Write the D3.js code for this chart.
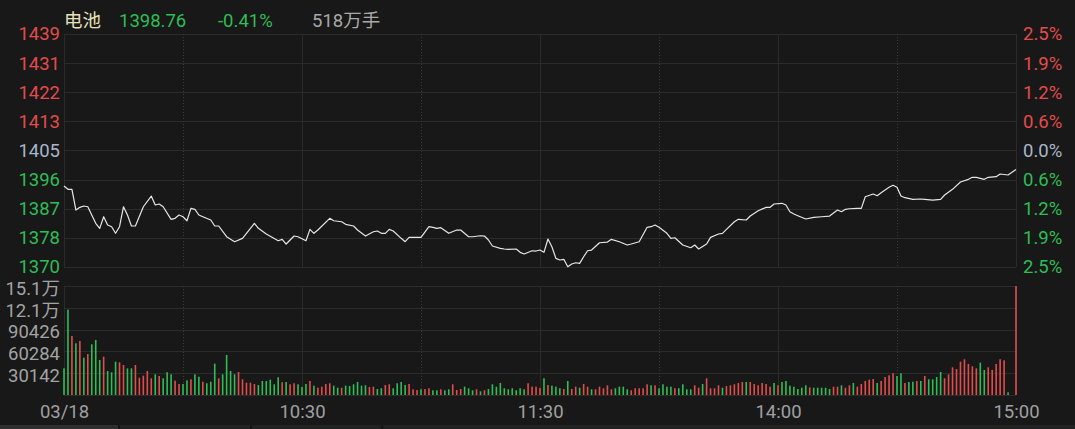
<!DOCTYPE html>
<html>
<head>
<meta charset="utf-8">
<script src="https://cdn.jsdelivr.net/npm/d3@7/dist/d3.min.js"></script>
<style>
  html, body { margin: 0; padding: 0; background: #181818; }
  svg { display: block; }
  text { font-family: Roboto, "Noto Sans CJK SC", sans-serif; }
</style>
</head>
<body>
<svg id="chart" width="1075" height="429"></svg>
<script>
// ---------- header ----------
const stockName = "电池";
const lastPriceText = "1398.76";
const changeText = "-0.41%";
const volumeText = "518万手";
const prevClose = 1404.52;

// ---------- axis ticks ----------
const pctTickValues = [2.5, 1.875, 1.25, 0.625, 0, -0.625, -1.25, -1.875, -2.5];
const priceTickLabels = ["1439", "1431", "1422", "1413", "1405", "1396", "1387", "1378", "1370"];
const pctTickLabels = ["2.5%", "1.9%", "1.2%", "0.6%", "0.0%", "0.6%", "1.2%", "1.9%", "2.5%"];
const volTickValues = [30142, 60284, 90426, 120568, 150710];
const volTickLabels = ["30142", "60284", "90426", "12.1万", "15.1万"];
const timeTickValues = ["09:30", "10:30", "11:30", "14:00", "15:00"];
const timeTickLabels = ["03/18", "10:30", "11:30", "14:00", "15:00"];
const solidGridTimes = ["10:30", "11:30", "14:00"];
const dottedGridTimes = ["10:00", "11:00", "13:30", "14:30"];

// ---------- price line ----------
const priceTimes = ["09:30","09:31","09:32","09:33","09:34","09:35","09:36","09:38","09:39","09:40",
  "09:41","09:42","09:43","09:44","09:45","09:46","09:47","09:48","09:50","09:52",
  "09:53","09:54","09:55","09:57","09:58","09:59","10:00","10:01","10:02","10:03",
  "10:04","10:05","10:07","10:08","10:09","10:11","10:13","10:15","10:16","10:18",
  "10:19","10:21","10:24","10:25","10:26","10:28","10:29","10:31","10:32","10:33",
  "10:34","10:37","10:38","10:40","10:41","10:43","10:44","10:46","10:48","10:49",
  "10:50","10:51","10:52","10:53","10:55","10:56","10:57","11:00","11:02","11:03",
  "11:04","11:05","11:07","11:09","11:10","11:12","11:13","11:15","11:16","11:17",
  "11:18","11:20","11:21","11:22","11:24","11:25","11:26","11:28","11:29","11:30",
  "13:01","13:02","13:03","13:04","13:05","13:06","13:07","13:08","13:09","13:10",
  "13:11","13:12","13:13","13:15","13:17","13:18","13:20","13:22","13:23","13:25",
  "13:27","13:28","13:29","13:30","13:32","13:33","13:34","13:36","13:38","13:39",
  "13:40","13:42","13:43","13:45","13:46","13:47","13:49","13:50","13:52","13:53",
  "13:55","13:57","13:58","13:59","14:01","14:02","14:03","14:04","14:05","14:07",
  "14:09","14:11","14:13","14:15","14:16","14:17","14:18","14:20","14:21","14:22",
  "14:24","14:25","14:26","14:28","14:29","14:30","14:31","14:32","14:34","14:36",
  "14:37","14:39","14:41","14:42","14:44","14:46","14:48","14:49","14:50","14:52",
  "14:53","14:55","14:56","14:58","15:00"];
const prices = [1393.81,1392.82,1392.82,1386.58,1387.39,1387.79,1387.57,1382.57,1381.06,1384.56,
  1382.06,1381.55,1379.56,1381.55,1387.57,1385.07,1381.76,1381.76,1387.57,1390.80,
  1388.09,1388.39,1387.57,1383.78,1384.08,1385.07,1384.56,1383.35,1387.09,1386.79,
  1385.07,1384.56,1383.57,1381.76,1381.76,1378.53,1377.03,1378.05,1379.56,1382.57,
  1381.06,1379.35,1377.33,1377.75,1376.33,1378.74,1378.53,1377.33,1380.76,1379.56,
  1380.55,1384.08,1383.35,1383.05,1382.27,1381.76,1380.55,1378.74,1380.04,1380.25,
  1379.56,1379.56,1380.76,1380.25,1378.05,1377.03,1378.35,1378.35,1381.55,1381.37,
  1381.06,1381.25,1379.56,1380.55,1380.55,1378.53,1378.53,1378.83,1378.74,1377.54,
  1375.73,1375.04,1374.83,1374.73,1374.83,1373.83,1373.32,1374.31,1374.22,1374.52,
  1373.83,1377.84,1375.52,1372.02,1371.51,1371.72,1369.49,1370.30,1370.69,1370.51,
  1372.50,1374.31,1374.52,1376.72,1376.93,1377.75,1377.03,1376.03,1376.33,1377.03,
  1381.37,1381.55,1382.06,1381.37,1379.56,1378.05,1378.23,1376.03,1375.21,1376.03,
  1374.83,1376.33,1378.35,1379.35,1379.56,1380.76,1383.05,1383.78,1383.57,1384.77,
  1386.37,1387.39,1387.39,1388.39,1388.60,1388.09,1386.07,1385.37,1384.86,1383.87,
  1384.38,1384.56,1384.77,1386.58,1386.07,1386.79,1386.97,1387.09,1387.09,1390.59,
  1391.40,1390.89,1391.80,1393.42,1394.02,1393.42,1390.80,1390.29,1389.81,1389.90,
  1389.81,1389.59,1389.81,1391.10,1392.82,1395.02,1395.83,1396.44,1396.44,1395.83,
  1396.44,1396.62,1397.43,1397.13,1398.76];

// ---------- volume bars (one per minute, 09:30 .. 15:00) ----------
const volumes = [36900,118000,81600,71500,74700,51600,56700,70100,76100,48400,
  53000,33200,31400,46100,45200,41500,36900,36900,41500,23900,
  26700,33200,23100,28600,26300,23100,31400,28600,19800,15200,
  15200,20300,21700,28600,25300,18400,16200,18400,43300,23100,
  28600,55300,33200,28600,31800,21700,17000,17000,15200,13800,
  19400,19400,21200,14800,24500,17600,18000,14800,16200,14800,
  11100,15200,19400,12900,10100,11500,15200,16200,12900,10100,
  10100,12900,12400,14800,18000,12900,13400,11100,11500,8300,
  9300,13800,14800,9300,16200,18000,13800,15200,7900,6900,
  7900,8300,9300,6500,6500,7900,6500,7900,14800,6900,
  8300,11500,9300,6500,7900,5100,6500,8300,14800,11500,
  16600,9300,7900,9300,6500,9300,7900,16200,11500,11500,
  9700,23100,13800,12900,11500,9300,8300,19400,8300,11500,
  10100,15200,11500,7900,7900,11500,9300,13400,7900,9300,
  11500,11500,7900,6500,9300,9300,9300,14800,13400,13400,
  9300,14800,11500,11500,9300,9300,14800,7900,7900,13400,
  10100,15200,23100,9300,9300,13400,10100,12400,13400,14800,
  16600,18000,18000,18000,15200,13400,16600,15200,11500,16600,
  13400,18000,19400,12900,11500,8300,10100,13400,10400,10100,
  10100,10100,10100,8300,11500,11500,13400,10100,13400,16600,
  11500,15200,19400,21200,22100,16600,19400,24900,27200,30000,
  26300,30000,16600,18000,18400,19400,19400,26300,21700,21700,
  24900,31800,23100,28600,38300,36000,46100,49400,42900,39700,
  36900,44700,34600,38300,34600,42900,49400,48000,3700,0,
  150710];
const volDir = ["g","g","r","g","r","g","r","g","g","g",
  "r","g","g","g","r","r","g","g","r","r",
  "r","r","r","g","r","g","g","g","r","r",
  "g","g","r","g","g","r","g","g","g","r",
  "g","g","g","g","r","r","r","r","r","g",
  "g","g","g","g","g","r","g","r","r","g",
  "g","g","r","g","r","r","r","r","g","g",
  "r","g","g","g","g","g","g","r","r","g",
  "g","r","r","g","g","g","g","r","r","r",
  "g","r","r","g","g","r","g","g","r","r",
  "r","g","g","g","r","g","r","g","g","g",
  "g","g","g","g","g","g","g","r","r","r",
  "r","g","r","g","g","g","r","g","r","r",
  "g","r","r","g","r","r","r","r","r","g",
  "g","g","g","r","r","r","r","r","g","r",
  "g","g","g","g","r","g","g","g","g","r",
  "r","g","r","r","r","r","g","r","r","r",
  "r","r","g","r","r","r","r","r","r","g",
  "r","g","g","g","g","g","g","g","r","g",
  "g","g","g","g","r","r","g","r","r","g",
  "r","r","r","r","r","g","r","r","r","r",
  "g","g","r","g","g","r","g","r","g","g",
  "g","g","r","r","r","r","r","r","r","r",
  "r","g","g","r","r","r","r","r","g","g",
  "r"];

// ---------- colours ----------
const RED = "#e24c4c", GREEN = "#2fbd55", NEUTRAL = "#a9b6cb";
const GRID = "#2b2b2b", GRID_DOT = "#3a3a3a";

// ---------- layout ----------
const svg = d3.select("#chart");
const L = 64, R = 1016;
const pTop = 34, pBot = 267, vTop = 286, vBot = 395;

function toMinute(t) {
  const [h, m] = t.split(":").map(Number);
  const v = h * 60 + m;
  return h < 12 ? v - 570 : v - 780 + 120;
}

const x = d3.scaleLinear().domain([0, 240]).range([L, R]);
const yP = d3.scaleLinear().domain([prevClose * (1 - 0.025), prevClose * (1 + 0.025)]).range([pBot, pTop]);
const yV = d3.scaleLinear().domain([0, 150710]).range([vBot, vTop]);

// background
svg.append("rect").attr("width", 1075).attr("height", 429).attr("fill", "#181818");

// bottom tab strip
const strip = svg.append("g");
strip.append("rect").attr("x", 0).attr("y", 425).attr("width", 1075).attr("height", 4).attr("fill", "#222222");
strip.append("rect").attr("x", 0).attr("y", 425).attr("width", 118).attr("height", 4).attr("fill", "#2f2f2f");
[118, 250, 381].forEach(px => strip.append("rect").attr("x", px).attr("y", 425).attr("width", 2).attr("height", 4).attr("fill", "#141414"));

// ---------- grid ----------
const grid = svg.append("g");
const priceTickPrices = pctTickValues.map(p => prevClose * (1 + p / 100));
priceTickPrices.forEach(v => {
  grid.append("line").attr("x1", L).attr("x2", R).attr("y1", Math.round(yP(v)) + 0.5).attr("y2", Math.round(yP(v)) + 0.5)
    .attr("stroke", GRID).attr("stroke-width", 1);
});
[0].concat(volTickValues).forEach(v => {
  grid.append("line").attr("x1", L).attr("x2", R).attr("y1", Math.round(yV(v)) + 0.5).attr("y2", Math.round(yV(v)) + 0.5)
    .attr("stroke", GRID).attr("stroke-width", 1);
});
[L, R].forEach(px => {
  [[pTop, pBot], [vTop, vBot]].forEach(([a, b]) => {
    grid.append("line").attr("x1", px + 0.5).attr("x2", px + 0.5).attr("y1", a).attr("y2", b).attr("stroke", GRID);
  });
});
solidGridTimes.forEach(t => {
  const px = Math.round(x(toMinute(t))) + 0.5;
  [[pTop, pBot], [vTop, vBot]].forEach(([a, b]) => {
    grid.append("line").attr("x1", px).attr("x2", px).attr("y1", a).attr("y2", b).attr("stroke", GRID);
  });
});
dottedGridTimes.forEach(t => {
  const px = Math.round(x(toMinute(t))) + 0.5;
  [[pTop, pBot], [vTop, vBot]].forEach(([a, b]) => {
    grid.append("line").attr("x1", px).attr("x2", px).attr("y1", a).attr("y2", b)
      .attr("stroke", GRID_DOT).attr("stroke-dasharray", "1,2");
  });
});

// ---------- volume bars ----------
svg.append("g").selectAll("rect").data(volumes).join("rect")
  .attr("x", (d, i) => x(i) - 0.8)
  .attr("width", 1.6)
  .attr("y", d => yV(d))
  .attr("height", d => vBot - yV(d))
  .attr("fill", (d, i) => volDir[i] === "r" ? RED : GREEN);

// ---------- price line ----------
const lineData = priceTimes.map((t, i) => ({ m: toMinute(t), p: prices[i] }));
svg.append("path").datum(lineData)
  .attr("fill", "none").attr("stroke", "#e6e6e6").attr("stroke-width", 1.2)
  .attr("stroke-linejoin", "round")
  .attr("d", d3.line().x(d => x(d.m)).y(d => yP(d.p)));

// ---------- axes ----------
const FS = "18.5px";
const colorFor = i => i < 4 ? RED : (i === 4 ? NEUTRAL : GREEN);

const leftAxis = svg.append("g").attr("transform", `translate(${L},0)`)
  .call(d3.axisLeft(yP).tickValues(priceTickPrices).tickFormat((d, i) => priceTickLabels[i]).tickSize(0).tickPadding(4));
leftAxis.select(".domain").remove();
leftAxis.selectAll("text").attr("font-size", FS).attr("fill", (d, i) => colorFor(i)).attr("font-family", null);

const rightAxis = svg.append("g").attr("transform", `translate(${R},0)`)
  .call(d3.axisRight(yP).tickValues(priceTickPrices).tickFormat((d, i) => pctTickLabels[i]).tickSize(0).tickPadding(7));
rightAxis.select(".domain").remove();
rightAxis.selectAll("text").attr("font-size", FS).attr("fill", (d, i) => colorFor(i)).attr("font-family", null);

const volAxis = svg.append("g").attr("transform", `translate(${L},0)`)
  .call(d3.axisLeft(yV).tickValues(volTickValues).tickFormat((d, i) => volTickLabels[i]).tickSize(0).tickPadding(4));
volAxis.select(".domain").remove();
volAxis.selectAll("text").attr("font-size", FS).attr("fill", "#a3a3a3").attr("font-family", null).attr("dy", "0.45em");

const timeAxis = svg.append("g").attr("transform", `translate(0,${vBot})`)
  .call(d3.axisBottom(x).tickValues(timeTickValues.map(toMinute)).tickFormat((d, i) => timeTickLabels[i]).tickSize(0).tickPadding(10));
timeAxis.select(".domain").remove();
timeAxis.selectAll("text").attr("font-size", FS).attr("fill", "#a0a0a0").attr("font-family", null);

// ---------- header ----------
const header = svg.append("g").attr("font-size", FS);
header.append("text").attr("x", 64).attr("y", 27).attr("fill", "#e8e2b8").text(stockName);
header.append("text").attr("x", 119).attr("y", 27).attr("fill", GREEN).text(lastPriceText);
header.append("text").attr("x", 218).attr("y", 27).attr("fill", GREEN).text(changeText);
header.append("text").attr("x", 312).attr("y", 27).attr("fill", "#a8a8a8").text(volumeText);
</script>
</body>
</html>
